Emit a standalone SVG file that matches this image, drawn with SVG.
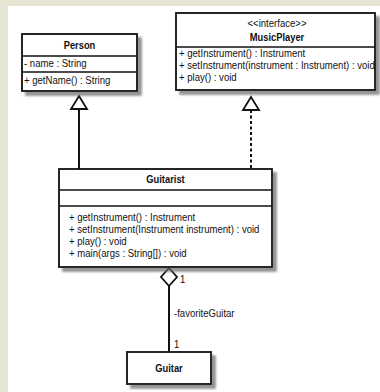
<svg xmlns="http://www.w3.org/2000/svg" width="380" height="392" viewBox="0 0 380 392">
  <defs>
    <filter id="sh" x="-10%" y="-10%" width="130%" height="140%">
      <feDropShadow dx="4" dy="4" stdDeviation="1.3" flood-color="#666" flood-opacity="0.7"/>
    </filter>
  </defs>
  <style>
    .box { fill: #fff; stroke: #111; stroke-width: 1.8; }
    .div { stroke: #111; stroke-width: 1.5; }
    .t { font-family: "Liberation Sans", Arial, sans-serif; font-size: 11px; fill: #111; }
    .b { font-weight: bold; text-anchor: middle; }
    .m { text-anchor: middle; }
    .edge { fill: none; stroke: #111; stroke-width: 2; }
    .dash { stroke-dasharray: 3 2.5; }
    .head { fill: #fff; stroke: #111; stroke-width: 1.8; }
  </style>
  <rect x="0" y="0" width="380" height="392" fill="#e7e6d5"/>
  <rect x="8" y="6" width="372" height="386" fill="#fff"/>

  <g id="connectors">
    <line class="edge" x1="79" y1="109" x2="79" y2="169"/>
    <polygon class="head" points="79,96 87,109 71,109"/>
    <line class="edge dash" x1="251" y1="110" x2="251" y2="169"/>
    <polygon class="head" points="251,97 259,110 243,110"/>
    <line class="edge" x1="169" y1="286" x2="169" y2="352"/>
    <polygon class="head" points="169,268 177,277 169,286 161,277"/>
    <text class="t" transform="translate(180,283) scale(0.87,1)">1</text>
    <text class="t" transform="translate(174,317) scale(0.87,1)">-favoriteGuitar</text>
    <text class="t" transform="translate(174,348) scale(0.87,1)">1</text>
  </g>

  <g id="person">
    <rect class="box" x="22" y="34" width="115" height="57" filter="url(#sh)"/>
    <line class="div" x1="22" y1="56" x2="137" y2="56"/>
    <line class="div" x1="22" y1="72" x2="137" y2="72"/>
    <text class="t b" transform="translate(79.5,49) scale(0.85,1)">Person</text>
    <text class="t" transform="translate(24,67) scale(0.87,1)">- name : String</text>
    <text class="t" transform="translate(24,84) scale(0.87,1)">+ getName() : String</text>
  </g>

  <g id="musicplayer">
    <rect class="box" x="176" y="13" width="199" height="77" filter="url(#sh)"/>
    <line class="div" x1="176" y1="47" x2="375" y2="47"/>
    <text class="t m" transform="translate(277,27) scale(0.87,1)">&lt;&lt;interface&gt;&gt;</text>
    <text class="t b" transform="translate(277,41) scale(0.85,1)">MusicPlayer</text>
    <text class="t" transform="translate(179,57) scale(0.87,1)">+ getInstrument() : Instrument</text>
    <text class="t" transform="translate(179,69) scale(0.87,1)">+ setInstrument(instrument : Instrument) : void</text>
    <text class="t" transform="translate(179,81) scale(0.87,1)">+ play() : void</text>
  </g>

  <g id="guitarist">
    <rect class="box" x="59" y="169" width="213" height="98" filter="url(#sh)"/>
    <line class="div" x1="59" y1="190" x2="272" y2="190"/>
    <line class="div" x1="59" y1="206" x2="272" y2="206"/>
    <text class="t b" transform="translate(165.5,183) scale(0.85,1)">Guitarist</text>
    <text class="t" transform="translate(69,221) scale(0.87,1)">+ getInstrument() : Instrument</text>
    <text class="t" transform="translate(69,233) scale(0.87,1)">+ setInstrument(Instrument instrument) : void</text>
    <text class="t" transform="translate(69,244.5) scale(0.87,1)">+ play() : void</text>
    <text class="t" transform="translate(69,256.5) scale(0.87,1)">+ main(args : String[]) : void</text>
  </g>

  <g id="guitar">
    <rect class="box" x="127" y="352" width="84" height="32" filter="url(#sh)"/>
    <text class="t b" transform="translate(169,372) scale(0.85,1)">Guitar</text>
  </g>
</svg>
